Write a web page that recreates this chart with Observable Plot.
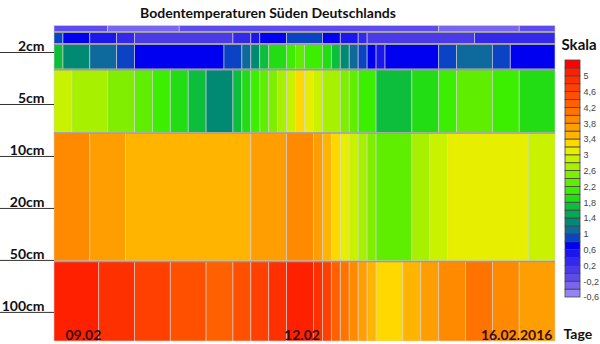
<!DOCTYPE html>
<html><head><meta charset="utf-8">
<script src="https://cdn.jsdelivr.net/npm/d3@7"></script>
<script src="https://cdn.jsdelivr.net/npm/@observablehq/plot@0.6"></script>
<style>
body{margin:0;background:#fff;}
#wrap{position:relative;width:600px;height:344px;overflow:hidden;}
#legend{position:absolute;left:560px;top:50px;}
</style></head><body>
<div id="wrap"><div id="chart"></div><div id="legend"></div></div>
<script>
// time: hours since 09.02.2016 00:00, one reading every 3 hours
const stepHours = 3;
const dayLabels = ["09.02", "12.02", "16.02.2016"];
const dayPos = [0, 84, 168];

// depth rows (label positions on the depth-index axis)
const depthLabels = ["2cm", "5cm", "10cm", "20cm", "50cm", "100cm"];
const depthPos = [1, 2, 3, 4, 5, 6];

// extent of each surface layer on the depth-index axis
const layerTop    = [0.49, 0.61, 0.84, 1.33, 2.55, 5.02];
const layerBottom = [0.61, 0.84, 1.33, 2.55, 5.02, 6.56];

// temperatures (°C) per layer, 56 readings each
const oberflaeche = [-0.1,-0.1,-0.1,-0.1,-0.1,-0.1,-0.3,-0.3,-0.3,-0.3,-0.3,-0.3,-0.3,-0.3,
  -0.1,-0.1,-0.1,-0.1,-0.1,-0.1,-0.1,-0.1,-0.1,-0.1,-0.1,-0.1,-0.1,-0.1,-0.1,-0.1,-0.1,-0.1,-0.1,-0.1,-0.1,
  -0.1,-0.1,-0.1,-0.1,-0.1,-0.1,-0.1,-0.1,
  -0.3,-0.3,-0.3,-0.3,-0.3,-0.3,-0.3,-0.3,-0.3,
  -0.1,-0.1,-0.1,-0.1];
const uebergang = [0.9, 0.7,0.7,0.7, 0.5,0.5,0.5, 0.3,0.3,
  0.1,0.1,0.1,0.1,0.1,0.1,0.1,0.1,0.1,0.1,0.1,
  0.3,0.3, 0.5, 0.7,0.7,0.7, 0.9,0.9,0.9,0.9, 0.7,0.7, 0.5,0.5, 0.3,
  0.1,0.1,0.1,0.1,0.1,0.1,0.1,0.1,0.1,0.1,0.1,0.1,
  0.3,0.3,0.3,0.3,0.3,0.3,0.3,0.3,0.3];
const cm2 = [1.7, 1.3,1.3,1.3, 1.1,1.1,1.1, 0.9,0.9,
  0.7,0.7,0.7,0.7,0.7,0.7,0.7,0.7,0.7,0.7,
  0.9,0.9, 1.1, 1.3, 1.7, 1.9,1.9, 2.1, 2.3, 2.1,2.1, 1.9, 1.7, 1.3, 1.1, 0.9, 0.7, 0.5,
  0.7,0.7,0.7,0.7,0.7,0.7, 0.9,0.9, 1.1,1.1,1.1,1.1, 0.9,0.9, 0.7,0.7,0.7,0.7,0.7];
const cm5 = [2.9,2.9, 2.7,2.7,2.7,2.7, 2.5,2.5,2.5, 2.3,2.3, 2.1,2.1, 1.9,1.9, 1.7,1.7,
  1.3,1.3,1.3, 1.7, 1.9, 2.1, 2.3, 2.5, 2.7, 2.9, 3.3, 3.1, 2.9, 2.7,2.7, 2.5, 2.3, 2.1,2.1,
  1.7,1.7,1.7,1.7, 1.9,1.9,1.9, 2.1,2.1, 2.3,2.3,2.3,2.3, 2.1,2.1,2.1, 1.9,1.9,1.9,1.9];
const cm10bis50 = [3.9,3.9,3.9,3.9, 3.7,3.7,3.7,3.7,
  3.5,3.5,3.5,3.5,3.5,3.5,3.5,3.5,3.5,3.5,3.5,3.5,3.5,3.5,
  3.7,3.7,3.7,3.7, 3.9,3.9,3.9, 3.7, 3.5, 3.3, 3.1, 2.9, 2.7, 2.5,
  2.3,2.3,2.3,2.3, 2.7,2.7, 2.9,2.9, 3.1,3.1,3.1,3.1,3.1,3.1,3.1,3.1,3.1, 2.9,2.9,2.9];
const cm100 = [5.1,5.1,5.1,5.1,5.1, 4.9,4.9,4.9,4.9, 4.7,4.7,4.7,4.7, 4.5,4.5,4.5,4.5,
  4.3,4.3,4.3, 4.5,4.5, 4.7,4.7, 4.9,4.9, 5.1,5.1,5.1, 4.9, 4.7, 4.3, 4.1, 3.9, 3.7, 3.5,
  3.3,3.3,3.3, 3.5,3.5, 3.7,3.7, 3.9,3.9,3.9, 4.1,4.1,4.1, 3.9,3.9,3.9, 3.7,3.7,3.7,3.7];

// colour scale "Skala": 0.2 °C classes from -0.6 to 5.4
const breaks = [-0.4,-0.2,0,0.2,0.4,0.6,0.8,1,1.2,1.4,1.6,1.8,2,2.2,2.4,2.6,2.8,3,3.2,3.4,3.6,3.8,4,4.2,4.4,4.6,4.8,5,5.2];
const classColors = ["#9484f2","#7866ee","#5e4cea","#4a3ae8","#3428ea","#1c16ee","#0000f0","#0a44c4",
  "#0e6a9c","#008a74","#00a858","#0cbe3c","#22dc14","#3cee00","#60ee00","#80ee00","#a6f000","#c8f200",
  "#e8ee00","#ffd800","#ffb400","#ff9e00","#ff8a00","#ff7400","#ff6000","#ff5000","#ff4000","#ff3000",
  "#ff2000","#ff0000"];
const classLow = [-0.6, ...breaks];
const classHigh = [...breaks, 5.4];
const legendTicks = [-0.6,-0.2,0.2,0.6,1,1.4,1.8,2.2,2.6,3,3.4,3.8,4.2,4.6,5];

const layers = [oberflaeche, uebergang, cm2, cm5, cm10bis50, cm100];
const runs = [];
layers.forEach((vals, li) => {
  let start = 0;
  const cls = v => d3.bisectRight(breaks, v);
  for (let i = 1; i <= vals.length; i++) {
    if (i === vals.length || cls(vals[i]) !== cls(vals[start])) {
      runs.push({x1: start * stepHours, x2: i * stepHours, y1: layerTop[li], y2: layerBottom[li], v: vals[start]});
      start = i;
    }
  }
});
const innerEdges = layerTop.slice(1);
const colorOpts = {type: "threshold", domain: breaks, range: classColors};
const font = "Lato, 'Open Sans', sans-serif";

const chart = Plot.plot({
  width: 600, height: 344,
  marginLeft: 54, marginRight: 45, marginTop: 25.5, marginBottom: 3,
  x: {domain: [0, 168], axis: null},
  y: {domain: [0.49, 6.56], reverse: true, label: null},
  color: colorOpts,
  style: {fontFamily: font, background: "#fff"},
  marks: [
    Plot.rect(runs, {x1: "x1", x2: "x2", y1: "y1", y2: "y2", fill: "v", stroke: "#d4d4d4", strokeWidth: 0.8, strokeOpacity: 0.75}),
    Plot.ruleY(innerEdges, {stroke: "#9c9c9c", strokeWidth: 1.6}),
    Plot.axisY(depthPos, {tickSize: 54, tickFormat: () => "", stroke: "#333", label: null}),
    Plot.text(depthPos, {y: d => d, text: (d, i) => depthLabels[i], frameAnchor: "left", textAnchor: "end", lineAnchor: "middle",
      dx: -10, dy: -6, fontWeight: "bold", fontSize: 14, fill: "#111"}),
    Plot.text([dayPos[0]], {x: d => d, text: [dayLabels[0]], frameAnchor: "bottom", textAnchor: "start", lineAnchor: "middle", dx: 11, dy: -6, fontWeight: "bold", fontSize: 14, fill: "#3a0c0c"}),
    Plot.text([dayPos[1]], {x: d => d, text: [dayLabels[1]], frameAnchor: "bottom", textAnchor: "middle", lineAnchor: "middle", dx: -3, dy: -6, fontWeight: "bold", fontSize: 14, fill: "#3a0c0c"}),
    Plot.text([dayPos[2]], {x: d => d, text: [dayLabels[2]], frameAnchor: "bottom", textAnchor: "end", lineAnchor: "middle", dx: -3, dy: -6, fontWeight: "bold", fontSize: 14, fill: "#3a0c0c"}),
    Plot.text(["Bodentemperaturen Süden Deutschlands"], {frameAnchor: "top", lineAnchor: "middle", dx: -37, dy: -12, fontWeight: "bold", fontSize: 14, fill: "#111"}),
    Plot.text(["Skala"], {frameAnchor: "top-right", textAnchor: "start", lineAnchor: "middle", dx: 6, dy: 19, fontWeight: "bold", fontSize: 15, fill: "#111"}),
    Plot.text(["Tage"], {frameAnchor: "bottom-right", textAnchor: "start", lineAnchor: "middle", dx: 8, dy: -7, fontWeight: "bold", fontSize: 14, fill: "#111"})
  ]
});
document.getElementById("chart").append(chart);

const legend = Plot.plot({
  width: 40, height: 257,
  marginLeft: 5, marginRight: 20, marginTop: 10, marginBottom: 10,
  x: {axis: null},
  y: {domain: [-0.6, 5.4], label: null},
  color: colorOpts,
  style: {fontFamily: "'Liberation Sans', Arial, sans-serif", fontSize: "9px", color: "#444", background: "transparent"},
  marks: [
    Plot.rect(classLow, {y1: d => d, y2: (d, i) => classHigh[i], fill: d => d, stroke: "#444", strokeWidth: 0.8}),
    Plot.axisY(legendTicks, {anchor: "right", tickSize: 0, tickPadding: 3, tickFormat: d => String(d).replace(".", ","), label: null})
  ]
});
document.getElementById("legend").append(legend);
</script>
</body></html>
